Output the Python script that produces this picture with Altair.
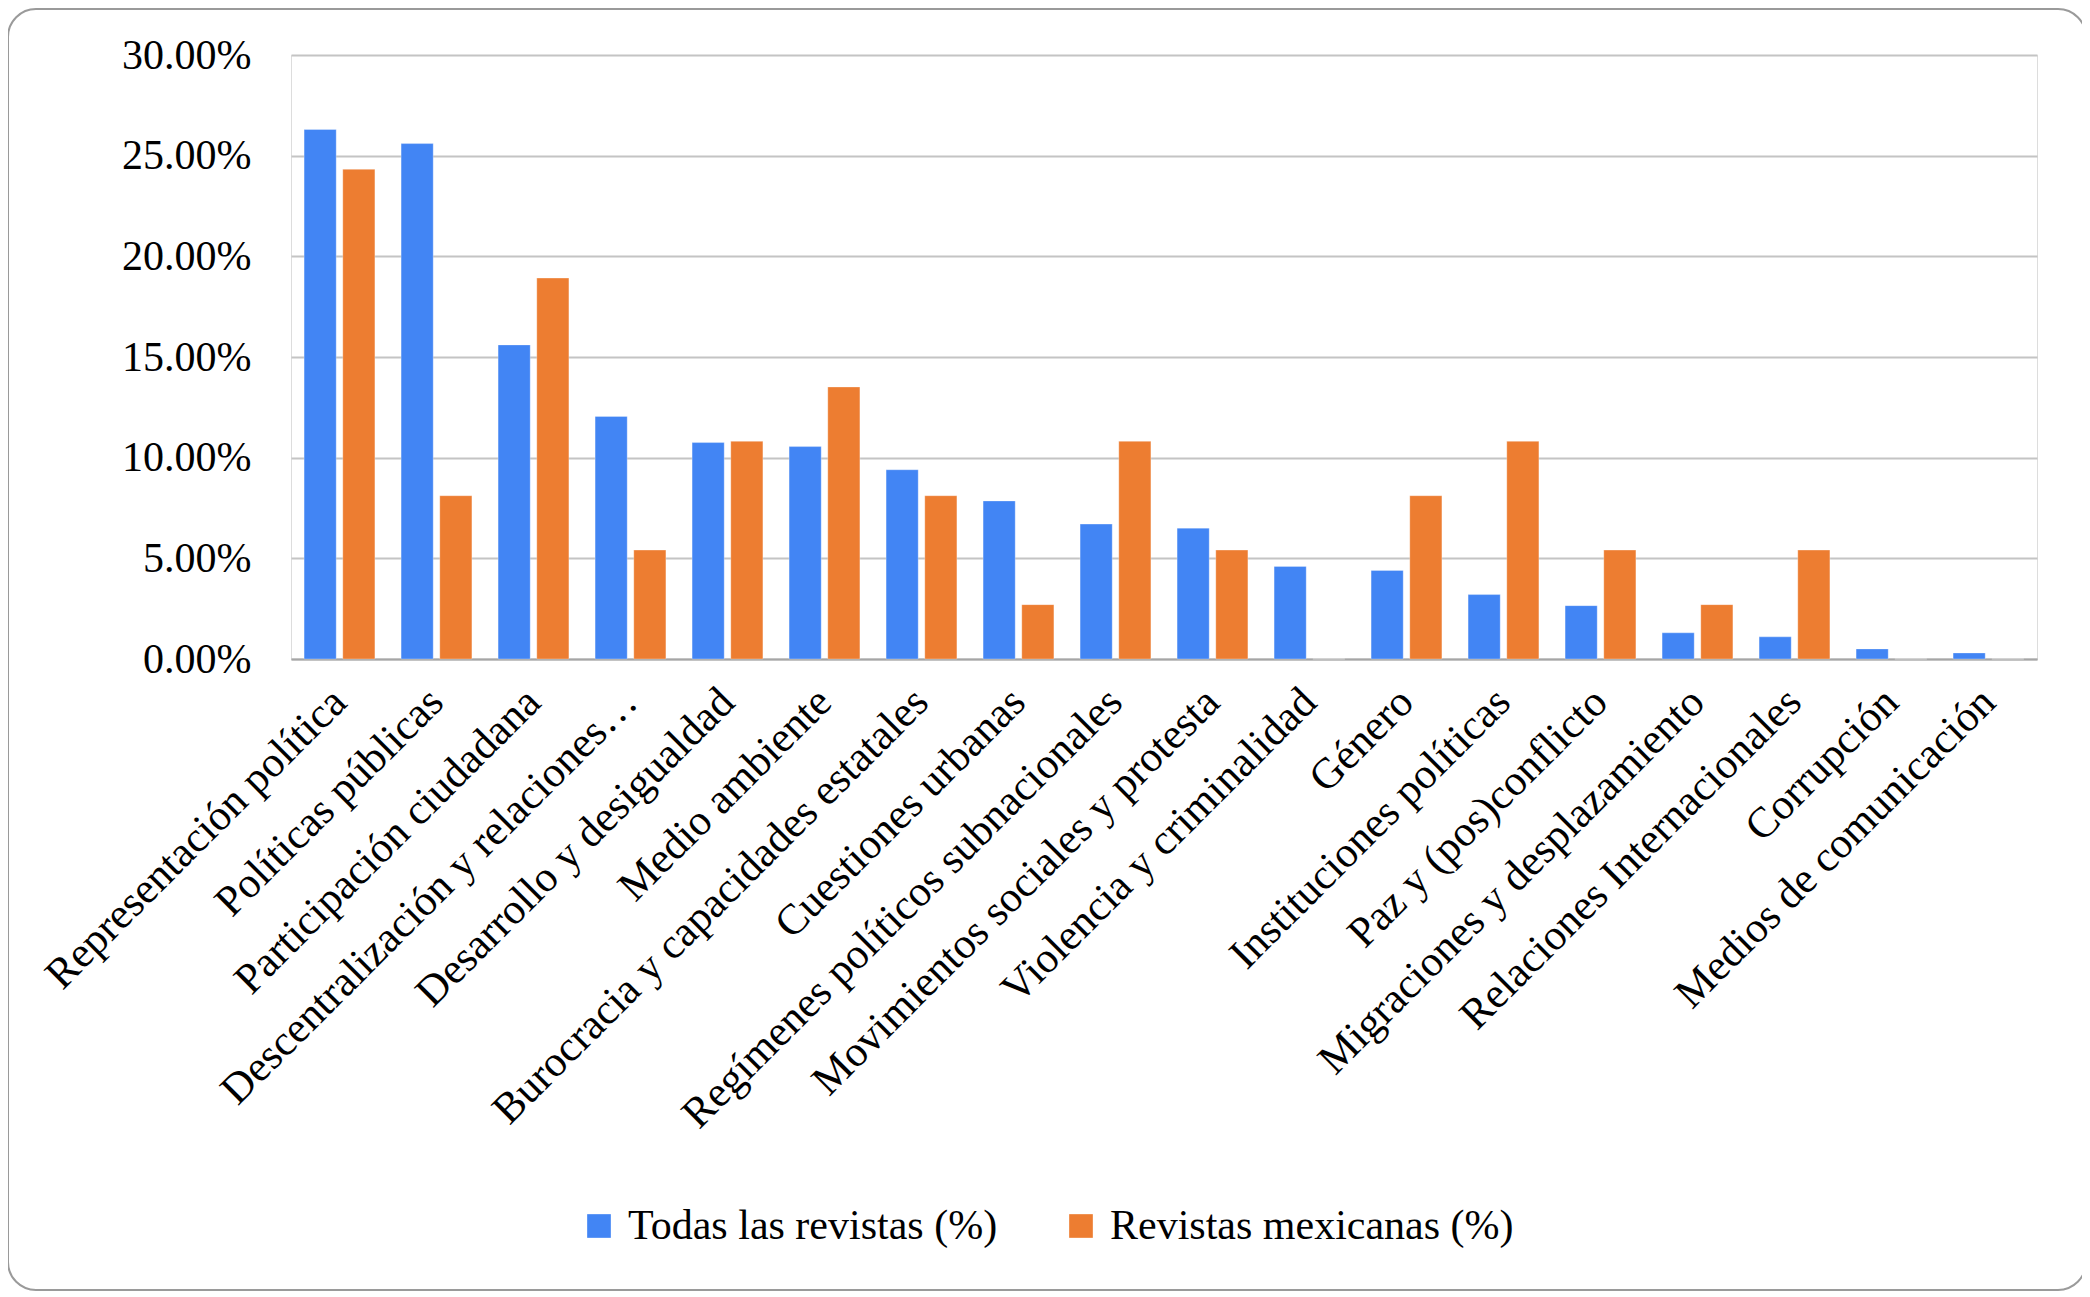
import altair as alt
import pandas as pd

categories = [
    "Representación política", "Políticas públicas", "Participación ciudadana",
    "Descentralización y relaciones…", "Desarrollo y desigualdad", "Medio ambiente",
    "Burocracia y capacidades estatales", "Cuestiones urbanas",
    "Regímenes políticos subnacionales", "Movimientos sociales y protesta",
    "Violencia y criminalidad", "Género", "Instituciones políticas",
    "Paz y (pos)conflicto", "Migraciones y desplazamiento",
    "Relaciones Internacionales", "Corrupción", "Medios de comunicación",
]
series = ["Todas las revistas (%)", "Revistas mexicanas (%)"]
todas = [26.3, 25.6, 15.6, 12.05, 10.75, 10.55, 9.4, 7.85, 6.7, 6.5, 4.6, 4.4, 3.2, 2.65, 1.3, 1.1, 0.5, 0.3]
mexicanas = [24.32, 8.11, 18.92, 5.41, 10.81, 13.51, 8.11, 2.70, 10.81, 5.41, 0.0, 8.11, 10.81, 5.41, 2.70, 5.41, 0.0, 0.0]
colors = ["#4285F4", "#ED7D31"]
y_ticks = [0, 5, 10, 15, 20, 25, 30]

rows = []
for c, a, b in zip(categories, todas, mexicanas):
    rows.append({"cat": c, "serie": series[0], "val": a})
    rows.append({"cat": c, "serie": series[1], "val": b})
df = pd.DataFrame(rows)

FONT = "Liberation Serif"
W, H = 1746, 604

bars = alt.Chart(df).mark_bar(stroke="white", strokeWidth=0.6, strokeOpacity=0.5).encode(
    x=alt.X("cat:N", sort=categories, title=None,
            scale=alt.Scale(paddingInner=0.27, paddingOuter=0.135),
            axis=alt.Axis(labelAngle=-45, labelAlign="right", labelBaseline="middle",
                          labelPadding=36, ticks=False, domain=True, domainColor="#a6a6a6",
                          domainWidth=2, labelFontSize=43, labelFont=FONT, labelColor="black",
                          labelLimit=2000, grid=False)),
    xOffset=alt.XOffset("serie:N", sort=series, scale=alt.Scale(paddingInner=0.17)),
    y=alt.Y("val:Q", title=None, scale=alt.Scale(domain=[0, 30], nice=False),
            axis=alt.Axis(values=y_ticks, labelExpr="format(datum.value, '.2f') + '%'",
                          domain=False, ticks=False, labelPadding=40, labelFontSize=42,
                          labelFont=FONT, labelColor="black", grid=True,
                          gridColor="#c4c4c4", gridWidth=2)),
    color=alt.Color("serie:N", sort=series, title=None,
                    scale=alt.Scale(domain=series, range=colors),
                    legend=alt.Legend(orient="none", legendX=287, legendY=1150,
                                      direction="horizontal", symbolType="square",
                                      symbolSize=560, symbolStrokeWidth=0,
                                      labelFont=FONT, labelFontSize=42, labelColor="black",
                                      labelLimit=2000, columnPadding=62, labelOffset=8)),
)

border = alt.Chart(pd.DataFrame({"a": [0]})).mark_rect(
    fillOpacity=0, stroke="#9a9a9a", strokeWidth=2, cornerRadius=28, clip=False
).encode(x=alt.value(-283), x2=alt.value(1795), y=alt.value(-46), y2=alt.value(1235))

chart = alt.layer(border, bars).properties(
    width=W, height=H,
    autosize=alt.AutoSizeParams(type="none"),
    padding={"left": 283, "top": 47, "right": 45, "bottom": 632},
).configure_view(stroke=None).configure(background="white")

chart.save("out.html", embed_options={"renderer": "svg", "actions": False})
